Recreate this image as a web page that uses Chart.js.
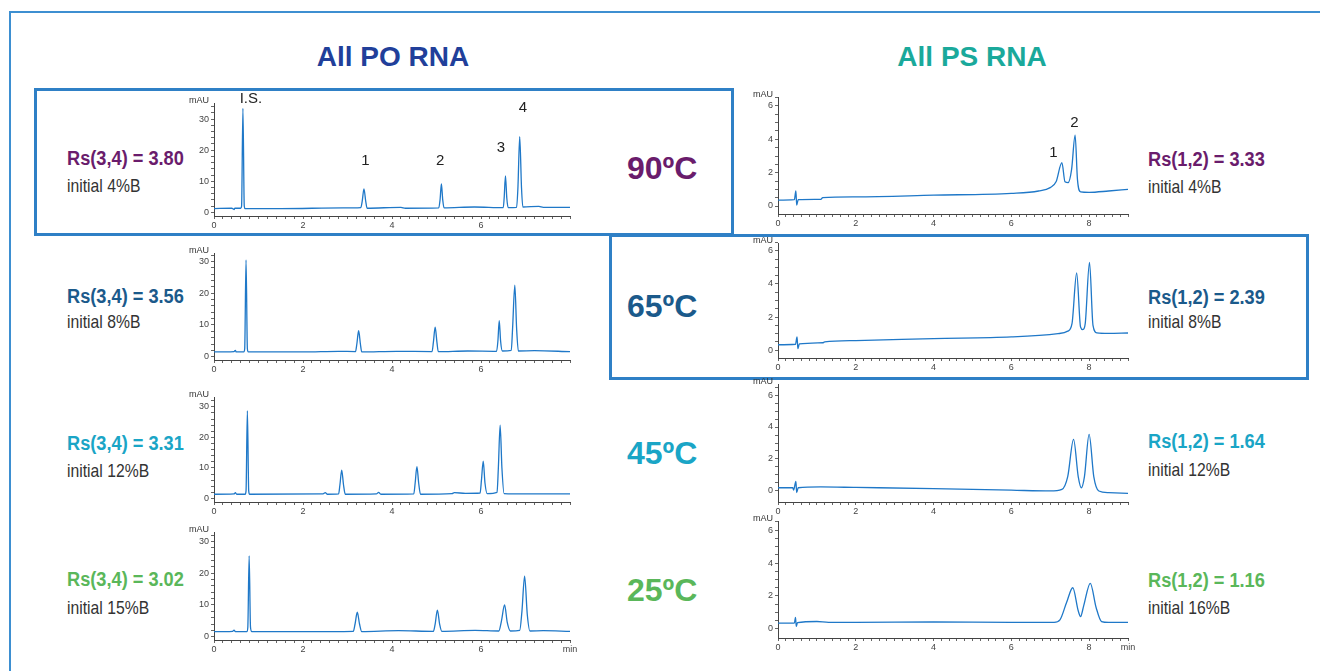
<!DOCTYPE html>
<html>
<head>
<meta charset="utf-8">
<script src="https://cdn.jsdelivr.net/npm/chart.js@4.4.1/dist/chart.umd.min.js"></script>
<style>
  body { margin: 0; background: #fff; width: 1320px; height: 671px; overflow: hidden; position: relative;
         font-family: "Liberation Sans", Arial, sans-serif; }
  .abs { position: absolute; white-space: nowrap; line-height: 1; }
  .mid { transform: translateY(-50%); }
  .title { font-size: 28px; font-weight: bold; transform: translate(-50%, -50%); }
  .temp { font-size: 32px; font-weight: bold; }
  .rs { font-size: 20px; font-weight: bold; transform: translateY(-50%) scaleX(0.91); transform-origin: left center; }
  .init { font-size: 18.5px; color: #333; transform: translateY(-50%) scaleX(0.85); transform-origin: left center; }
  .box { position: absolute; box-sizing: border-box; border: 3px solid #2f80c6; }
  canvas { position: absolute; }
</style>
</head>
<body>

<div class="abs" style="left:9px;top:11px;width:1320px;height:700px;border-left:2px solid #3d8fd1;border-top:2px solid #3d8fd1"></div>
<div class="box" style="left:34px;top:88px;width:700px;height:148px"></div>
<div class="box" style="left:609px;top:234px;width:700px;height:146px"></div>

<div class="abs title" style="left:393px;top:57px;color:#213f9a">All PO RNA</div>
<div class="abs title" style="left:972px;top:57px;color:#1aa99b">All PS RNA</div>

<div id="labels"></div>

<canvas id="c1"></canvas><canvas id="c2"></canvas><canvas id="c3"></canvas><canvas id="c4"></canvas>
<canvas id="c5"></canvas><canvas id="c6"></canvas><canvas id="c7"></canvas><canvas id="c8"></canvas>

<script>
// chromatogram traces: [time (min), signal (mAU)]
const po90 = [[0,1.2],[0.4,1.3],[0.45,0.9],[0.47,1.3],[0.6,1.3],[0.62,2],[0.65,33.5],[0.68,2],[0.7,1.2],[1.5,1.2],[2.9,1.4],[3.3,1.5],[3.33,3.5],[3.37,7.5],[3.41,3.5],[3.44,1.3],[4.2,1.6],[4.3,1.3],[5.05,1.4],[5.08,4],[5.11,9.1],[5.14,4],[5.17,1.4],[5.85,1.7],[6.5,1.5],[6.52,4.5],[6.55,11.7],[6.58,4.5],[6.61,1.5],[6.8,1.6],[6.83,8],[6.87,24.4],[6.91,8],[6.94,1.7],[7.3,1.9],[7.4,1.6],[8,1.6]];
const po65 = [[0,1.5],[0.45,1.6],[0.48,2],[0.5,1.5],[0.67,1.5],[0.69,2.5],[0.72,30.5],[0.75,2.5],[0.77,1.5],[2,1.5],[2.8,1.7],[3.18,1.6],[3.21,4],[3.25,8.2],[3.29,4],[3.32,1.5],[4.1,1.7],[4.9,1.6],[4.93,4.5],[4.97,9.3],[5.01,4.5],[5.04,1.6],[5.7,1.8],[6.35,1.7],[6.38,5],[6.41,11.4],[6.44,5],[6.48,1.8],[6.68,2],[6.71,9],[6.76,22.6],[6.8,9],[6.84,1.8],[7.2,1.9],[8,1.6]];
const po45 = [[0,1.4],[0.45,1.5],[0.48,1.9],[0.51,1.4],[0.7,1.4],[0.72,2.5],[0.75,28.7],[0.78,2.5],[0.8,1.4],[2.45,1.5],[2.5,1.9],[2.55,1.4],[2.8,1.5],[2.83,4.5],[2.87,9.3],[2.91,4.5],[2.95,1.4],[3.65,1.5],[3.7,2],[3.75,1.4],[4.49,1.5],[4.52,5],[4.56,10.4],[4.6,5],[4.64,1.4],[5.35,1.6],[5.4,1.9],[5.65,1.7],[5.98,1.8],[6.01,6],[6.05,12.2],[6.09,5],[6.14,1.6],[6.36,2],[6.39,10],[6.43,24],[6.47,10],[6.52,1.6],[7,1.5],[8,1.5]];
const po25 = [[0,1.6],[0.42,1.7],[0.45,2.1],[0.48,1.6],[0.74,1.6],[0.76,3],[0.79,25.5],[0.82,3],[0.85,1.6],[2,1.6],[3.13,1.7],[3.17,4],[3.22,7.7],[3.27,4],[3.32,1.6],[4.15,1.9],[4.93,1.7],[4.97,4],[5.02,8.4],[5.07,4],[5.12,1.7],[5.87,2],[6.4,1.8],[6.46,5],[6.53,10],[6.59,4.5],[6.66,1.8],[6.87,2],[6.92,8],[6.98,19.1],[7.04,7],[7.1,1.8],[7.4,1.9],[8,1.7]];
const ps90 = [[0,0.35],[0.42,0.38],[0.46,0.9],[0.48,0.05],[0.52,0.38],[1.1,0.4],[1.15,0.5],[2,0.55],[4,0.65],[6,0.76],[6.7,0.9],[7.0,1.1],[7.15,1.45],[7.3,2.6],[7.38,1.45],[7.46,1.4],[7.55,2.2],[7.64,4.25],[7.7,1.6],[7.78,0.85],[8.0,0.82],[8.5,0.9],[9.0,1.0]];
const ps65 = [[0,0.33],[0.45,0.36],[0.49,0.8],[0.51,0.1],[0.55,0.38],[1.15,0.45],[1.2,0.5],[2,0.58],[4,0.7],[6,0.8],[7.2,1.0],[7.45,1.15],[7.56,1.6],[7.68,4.66],[7.78,1.4],[7.84,1.24],[7.9,1.6],[8.01,5.3],[8.1,1.5],[8.2,1.05],[8.5,1.02],[9.0,1.04]];
const ps45 = [[0,0.2],[0.38,0.2],[0.4,0.05],[0.42,0.2],[0.46,0.6],[0.48,-0.1],[0.52,0.2],[1.1,0.25],[2,0.22],[4,0.15],[6,0.05],[7,0.0],[7.3,0.1],[7.45,0.9],[7.6,3.23],[7.72,0.9],[7.8,0.2],[7.88,0.9],[8.0,3.54],[8.12,0.9],[8.25,0.0],[8.5,-0.1],[9.0,-0.15]];
const ps25 = [[0,0.35],[0.42,0.35],[0.45,0.7],[0.47,0.15],[0.5,0.38],[1,0.45],[1.3,0.4],[2,0.4],[4,0.42],[6,0.4],[7.1,0.4],[7.25,0.55],[7.42,1.6],[7.58,2.5],[7.72,1.1],[7.78,0.75],[7.86,1.4],[8.03,2.77],[8.18,1.3],[8.32,0.45],[8.5,0.4],[9.0,0.4]];

// peak labels: [text, time, mAU]
const poPeaks = [['I.S.',0.83,36.5],['1',3.4,16.5],['2',5.08,16.5],['3',6.45,20.7],['4',6.94,33.6]];
const psPeaks = [['1',7.08,3.2],['2',7.62,4.97]];

// tick labels
const poXTicks = [0, 2, 4, 6];
const psXTicks = [0, 2, 4, 6, 8];
const poYTicks = [0, 10, 20, 30];
const psYTicks = [0, 2, 4, 6];

// resolution and conditions
const temps = ['90ºC', '65ºC', '45ºC', '25ºC'];
const tempColors = ['#6a1c6c', '#1b5a8b', '#1aa5c6', '#5ab75a'];
const poRs = ['Rs(3,4) = 3.80', 'Rs(3,4) = 3.56', 'Rs(3,4) = 3.31', 'Rs(3,4) = 3.02'];
const poInit = ['initial 4%B', 'initial 8%B', 'initial 12%B', 'initial 15%B'];
const psRs = ['Rs(1,2) = 3.33', 'Rs(1,2) = 2.39', 'Rs(1,2) = 1.64', 'Rs(1,2) = 1.16'];
const psInit = ['initial 4%B', 'initial 8%B', 'initial 12%B', 'initial 16%B'];

// text placement
const tempY = [168, 306, 453, 590];
const poRsY = [[158, 186], [296, 322], [443, 471], [579, 608]];
const psRsY = [[159, 187], [297, 322], [441, 470], [580, 608]];

const lab = document.getElementById('labels');
function addText(txt, cls, left, top, color) {
  const d = document.createElement('div');
  d.className = 'abs mid ' + cls;
  d.style.left = left + 'px';
  d.style.top = top + 'px';
  if (color) d.style.color = color;
  d.textContent = txt;
  lab.appendChild(d);
}
temps.forEach((t, i) => {
  addText(t, 'temp', 627, tempY[i], tempColors[i]);
  addText(poRs[i], 'rs', 67, poRsY[i][0], tempColors[i]);
  addText(poInit[i], 'init', 67, poRsY[i][1]);
  addText(psRs[i], 'rs', 1148, psRsY[i][0], tempColors[i]);
  addText(psInit[i], 'init', 1148, psRsY[i][1]);
});

function range(a, b, step) {
  const out = [];
  for (let v = a; v <= b + 1e-9; v += step) out.push(Math.round(v * 100) / 100);
  return out;
}

const annot = {
  id: 'annot',
  afterDraw(chart, args, opts) {
    const { ctx, chartArea, scales } = chart;
    ctx.save();
    ctx.fillStyle = '#333';
    ctx.font = '9px "Liberation Sans", Arial';
    ctx.textAlign = 'right';
    ctx.textBaseline = 'middle';
    ctx.fillText('mAU', chartArea.left - 5, chartArea.top - 2);
    ctx.font = '15px "Liberation Sans", Arial';
    ctx.fillStyle = '#222';
    ctx.textAlign = 'center';
    (opts.peaks || []).forEach(([t, x, y]) => {
      ctx.fillText(t, scales.x.getPixelForValue(x), scales.y.getPixelForValue(y));
    });
    ctx.restore();
  }
};

const panels = [
  { id: 'c1', data: po90, ps: false, l: 214, t: 103, r: 570, b: 216, yMin: -1.2, yMax: 35.2, peaks: poPeaks },
  { id: 'c2', data: po65, ps: false, l: 214, t: 253, r: 570, b: 360, yMin: -1.04, yMax: 32.7 },
  { id: 'c3', data: po45, ps: false, l: 214, t: 397, r: 570, b: 502, yMin: -1.14, yMax: 33.2 },
  { id: 'c4', data: po25, ps: false, l: 214, t: 532, r: 570, b: 640, yMin: -1.04, yMax: 33, min: true },
  { id: 'c5', data: ps90, ps: true, l: 778, t: 97, r: 1128, b: 214, yMin: -0.48, yMax: 6.54, peaks: psPeaks },
  { id: 'c6', data: ps65, ps: true, l: 778, t: 243, r: 1128, b: 358, yMin: -0.47, yMax: 6.47 },
  { id: 'c7', data: ps45, ps: true, l: 778, t: 384, r: 1128, b: 502, yMin: -0.69, yMax: 6.69 },
  { id: 'c8', data: ps25, ps: true, l: 778, t: 521, r: 1128, b: 638, yMin: -0.55, yMax: 6.55, min: true }
];

const PADL = 40, PADT = 18, PADR = 22, PADB = 20;

panels.forEach(p => {
  const cv = document.getElementById(p.id);
  cv.width = p.r - p.l + PADL + PADR;
  cv.height = p.b - p.t + PADT + PADB;
  cv.style.left = (p.l - PADL) + 'px';
  cv.style.top = (p.t - PADT) + 'px';

  const xMax = p.ps ? 9 : 8;
  const xMajor = p.ps ? psXTicks : poXTicks;
  const yMajor = p.ps ? psYTicks : poYTicks;
  const xMinor = range(0, xMax, 0.2);
  const yMinor = p.ps ? range(0, 6.5, 0.5) : range(0, p.yMax, 2);
  const tickFont = { family: '"Liberation Sans", Arial', size: 9 };

  new Chart(cv, {
    type: 'line',
    data: {
      datasets: [{
        data: p.data.map(([x, y]) => ({ x, y })),
        borderColor: '#1f78c8',
        borderWidth: 1.3,
        pointRadius: 0,
        cubicInterpolationMode: 'monotone',
        fill: false
      }]
    },
    options: {
      responsive: false,
      animation: false,
      devicePixelRatio: 1,
      layout: { padding: { left: 0, top: PADT, right: PADR, bottom: 0 } },
      plugins: { legend: { display: false }, tooltip: { enabled: false }, annot: { peaks: p.peaks } },
      scales: {
        x: {
          type: 'linear', min: 0, max: xMax,
          afterBuildTicks: s => { s.ticks = xMinor.map(v => ({ value: v })); },
          afterFit: s => { s.height = PADB; s.paddingLeft = 0; s.paddingRight = 0; },
          ticks: {
            autoSkip: false, maxRotation: 0, padding: 1, color: '#444', font: tickFont,
            callback: v => {
              if (p.min && Math.abs(v - xMax) < 1e-6) return 'min';
              return xMajor.some(m => Math.abs(m - v) < 1e-6) ? String(Math.round(v)) : '';
            }
          },
          grid: { drawOnChartArea: false, drawTicks: true, tickLength: 3, color: '#666' },
          border: { display: true, color: '#444', width: 1 }
        },
        y: {
          type: 'linear', min: p.yMin, max: p.yMax,
          afterBuildTicks: s => { s.ticks = yMinor.map(v => ({ value: v })); },
          afterFit: s => { s.width = PADL; s.paddingTop = 0; s.paddingBottom = 0; },
          ticks: {
            autoSkip: false, padding: 2, color: '#444', font: tickFont,
            callback: v => yMajor.some(m => Math.abs(m - v) < 1e-6) ? String(Math.round(v)) : ''
          },
          grid: { drawOnChartArea: false, drawTicks: true, tickLength: 3, color: '#666' },
          border: { display: true, color: '#444', width: 1 }
        }
      }
    },
    plugins: [annot]
  });
});
</script>
</body>
</html>
